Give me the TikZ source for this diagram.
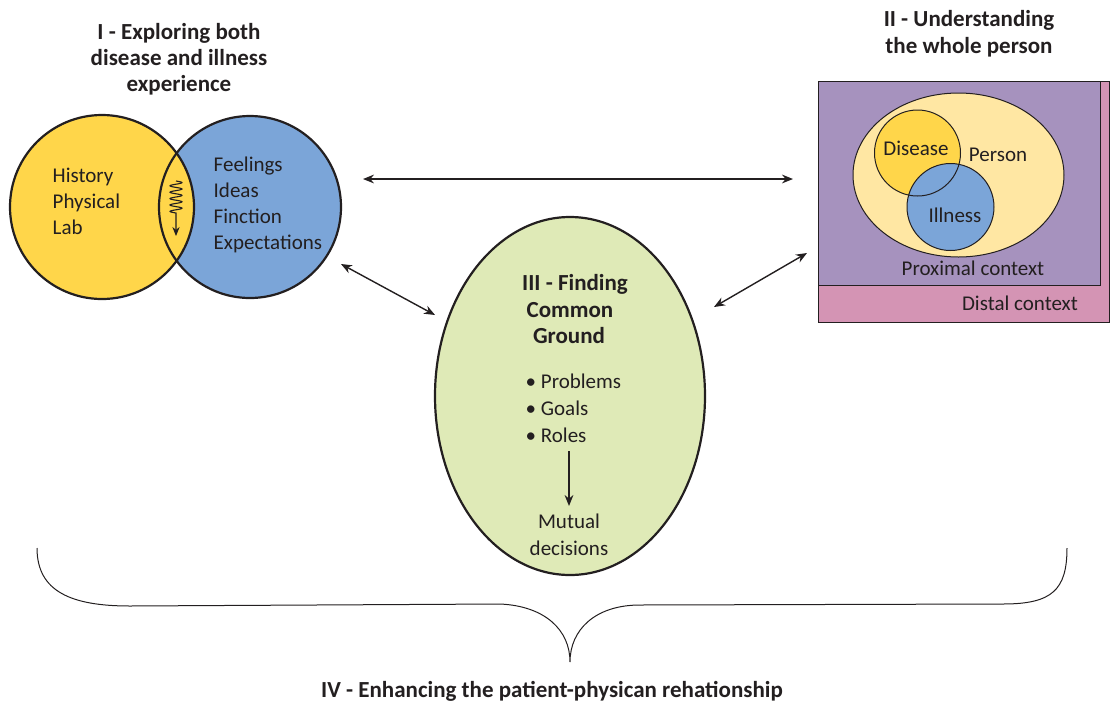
\documentclass[tikz,border=0pt]{standalone}
\usepackage{fontspec}
\setmainfont{Carlito}
\usetikzlibrary{arrows.meta}

\definecolor{inkc}{RGB}{35,31,32}
\definecolor{yellowc}{RGB}{255,214,74}
\definecolor{bluec}{RGB}{123,165,216}
\definecolor{purplec}{RGB}{166,146,190}
\definecolor{pinkc}{RGB}{212,148,180}
\definecolor{creamc}{RGB}{255,231,163}
\definecolor{greenc}{RGB}{223,234,183}

\begin{document}
\begin{tikzpicture}[x=0.5pt, y=-0.5pt, >={Stealth[length=5.5pt,width=4.4pt]}, line width=0.7pt, draw=inkc]
\tikzset{body/.style={inner sep=0, text=inkc, font=\fontsize{10.5}{13}\selectfont},
  title/.style={inner sep=0, text=inkc, font=\fontsize{11.5}{13}\selectfont\bfseries},
  rim/.style={draw=inkc, line width=1.1pt},
  thin/.style={draw=inkc, line width=0.5pt}}
\useasboundingbox (0,0) rectangle (1110,703);

% centres of the shapes
\coordinate (dz) at (102,207);
\coordinate (il) at (250,207);
\coordinate (pers) at (958.5,175);
\coordinate (dzs) at (917.5,153);
\coordinate (ils) at (950.5,207);
\coordinate (cg) at (570,396);

% I - disease and illness
\fill[yellowc] (dz) circle (92);
\fill[bluec] (il) circle (91);
\begin{scope}
\clip (il) circle (91);
\fill[yellowc] (dz) circle (92);
\end{scope}
\draw[rim] (dz) circle (92);
\draw[rim] (il) circle (91);
% the wavy arrow in the overlap
\coordinate (wavS) at (176,181);
\coordinate (wavE) at (176,236);
\draw[-{Stealth[length=4.5pt,width=3.6pt]}, line width=0.55pt]
  plot[smooth, domain=0:32, samples=120] ({176+6*sin(\x*56.25)}, {181+\x}) -- (wavE);

\node[title, anchor=base] (t1a) at (179,39) {I - Exploring both};
\node[title, anchor=base] (t1b) at (179,65) {disease and illness};
\node[title, anchor=base] (t1c) at (179,91) {experience};

\foreach \txt [count=\i] in {History,Physical,Lab}
  \node[body, anchor=base west] (hist-\i) at (52,156+26*\i) {\txt};
\foreach \txt [count=\i] in {Feelings,Ideas,Finction,Expectations}
  \node[body, anchor=base west] (feel-\i) at (213,145+26*\i) {\txt};

% II - whole person
\draw[thin, fill=pinkc] (818,81) rectangle (1109,322);
\draw[thin, fill=purplec] (818,81) rectangle (1100,285);
\draw[thin, fill=creamc] (pers) ellipse (105.5 and 82);
\fill[yellowc] (dzs) circle (43);
\fill[bluec] (ils) circle (43.5);
\draw[thin] (dzs) circle (43);
\draw[thin] (ils) circle (43.5);

\node[title, anchor=base] (t2a) at (969,26) {II - Understanding};
\node[title, anchor=base] (t2b) at (969,53) {the whole person};
\node[body, anchor=base] (disease) at (916,155) {Disease};
\node[body, anchor=base] (person) at (998,161) {Person};
\node[body, anchor=base] (illness) at (955,222) {Illness};
\node[body, anchor=base] (proximal) at (973,275) {Proximal context};
\node[body, anchor=base] (distal) at (1020,310) {Distal context};

% III - common ground
\draw[rim, fill=greenc] (cg) ellipse (135 and 179);
\node[title, anchor=base] (t3a) at (575,290) {III - Finding};
\node[title, anchor=base] (t3b) at (570,317) {Common};
\node[title, anchor=base] (t3c) at (569,343) {Ground};
\foreach \txt [count=\i] in {Problems,Goals,Roles}
  \node[body, anchor=base west] (goal-\i) at (525,361+27*\i) {\textbullet\ \txt};
\node[body, anchor=base] (mutual) at (569,528) {Mutual};
\node[body, anchor=base] (decis) at (569,555) {decisions};

% connectors
\coordinate (topL) at (363,179);
\coordinate (topR) at (793,179);
\coordinate (lowL) at (341,264);
\coordinate (cgL) at (435,315);
\coordinate (cgR) at (714,307);
\coordinate (lowR) at (807,253);
\coordinate (rolesB) at (569,451);
\coordinate (mutualT) at (569,506);
\draw[<->] (topL) -- (topR);
\draw[<->] (lowL) -- (cgL);
\draw[<->] (cgR) -- (lowR);
\draw[->] (rolesB) -- (mutualT);

% IV - brace
\coordinate (brL) at (37,548);
\coordinate (brM) at (570,662);
\coordinate (brR) at (1067,548);
\draw[thin] (brL) .. controls (37,592) and (72,606) .. (130,606) -- (500,604)
  .. controls (545,606) and (570,630) .. (brM)
  .. controls (570,630) and (595,605) .. (640,605) -- (1003,604)
  .. controls (1052,604) and (1067,590) .. (brR);
\node[title, anchor=base] (t4) at (552,697) {IV - Enhancing the patient-physican rehationship};

\end{tikzpicture}
\end{document}
